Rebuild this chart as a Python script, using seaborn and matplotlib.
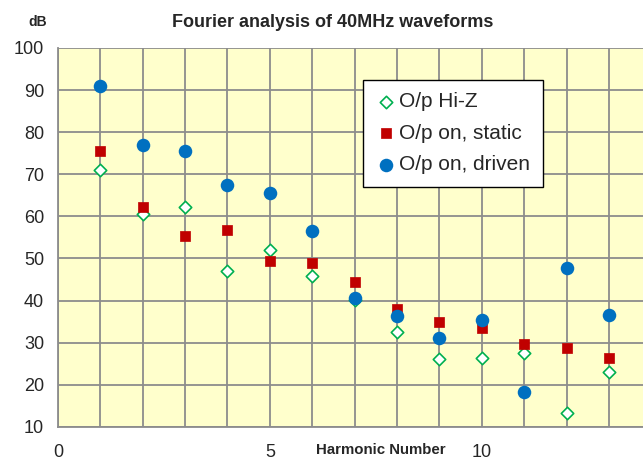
import numpy as np
import pandas as pd
import seaborn as sns
import matplotlib.pyplot as plt
from matplotlib.ticker import MultipleLocator

# harmonic numbers and levels (dB)
harmonic = [1, 2, 3, 4, 5, 6, 7, 8, 9, 10, 11, 12, 13]
hi_z = [71.0, 60.6, 62.3, 47.0, 52.1, 45.8, 40.1, 32.5, 26.1, 26.4, 27.6, 13.3, 23.0]
on_static = [75.6, 62.3, 55.4, 56.8, 49.5, 48.9, 44.5, 37.9, 34.8, 33.5, 29.7, 28.7, 26.4]
on_driven = [91.0, 77.0, 75.6, 67.4, 65.5, 56.6, 40.6, 36.3, 31.0, 35.5, 18.4, 47.8, 36.5]
x_ticks = [0, 5, 10]

df = pd.DataFrame({'Harmonic': harmonic, 'Hi-Z': hi_z,
                   'Static': on_static, 'Driven': on_driven})

sns.set_style('white')
plt.rcParams['font.family'] = ['Liberation Sans', 'DejaVu Sans']

fig = plt.figure(figsize=(6.43, 4.61), dpi=100)
ax = fig.add_axes([0.090, 0.074, 0.91, 0.822])
ax.set_facecolor('#FFFFCC')

sns.scatterplot(data=df, x='Harmonic', y='Hi-Z', marker='D', s=40,
                facecolor='white', edgecolor='#00B050', linewidth=1.2,
                label='O/p Hi-Z', ax=ax, zorder=3)
sns.scatterplot(data=df, x='Harmonic', y='Static', marker='s', s=45,
                color='#C00000', edgecolor='#C00000', linewidth=0.5,
                label='O/p on, static', ax=ax, zorder=4)
sns.scatterplot(data=df, x='Harmonic', y='Driven', marker='o', s=95,
                color='#0070C0', edgecolor='#0070C0', linewidth=0,
                label='O/p on, driven', ax=ax, zorder=5)

ax.set_xlim(0, 13.8)
ax.set_ylim(10, 100)
ax.set_xticks(x_ticks)
ax.set_xticklabels([str(t) for t in x_ticks])
ax.xaxis.set_minor_locator(MultipleLocator(1))
ax.yaxis.set_major_locator(MultipleLocator(10))

ax.grid(True, which='major', color='#8C8C8C', linewidth=1.3)
ax.grid(True, which='minor', axis='x', color='#8C8C8C', linewidth=1.3)
ax.set_axisbelow(True)

for side in ['top', 'right']:
    ax.spines[side].set_visible(False)
for side in ['left', 'bottom']:
    ax.spines[side].set_color('#8C8C8C')
    ax.spines[side].set_linewidth(1.3)

ax.tick_params(axis='x', which='major', length=6, width=1.3, color='#8C8C8C',
               direction='out', pad=6, labelsize=13)
ax.tick_params(axis='x', which='minor', length=0)
ax.tick_params(axis='y', length=5, width=1.3, color='#8C8C8C',
               direction='out', pad=5, labelsize=13)

ax.set_xlabel('')
ax.set_ylabel('')
fig.text(0.593, 0.008, 'Harmonic Number', fontsize=10.8, fontweight='bold',
         ha='center', va='bottom')
fig.text(0.058, 0.952, 'dB', fontsize=10, fontweight='bold',
         ha='center', va='center')
fig.text(0.518, 0.952, 'Fourier analysis of 40MHz waveforms', fontsize=13,
         fontweight='bold', ha='center', va='center')

leg = ax.legend(loc='upper left', bbox_to_anchor=(0.521, 0.9156), borderaxespad=0,
                fontsize=15, frameon=True, fancybox=False, handletextpad=0.15,
                handlelength=1.0, labelspacing=0.6, borderpad=0.6)
leg.get_frame().set_edgecolor('black')
leg.get_frame().set_linewidth(1.0)
leg.get_frame().set_alpha(1)

fig.savefig('out.png', dpi=100)
